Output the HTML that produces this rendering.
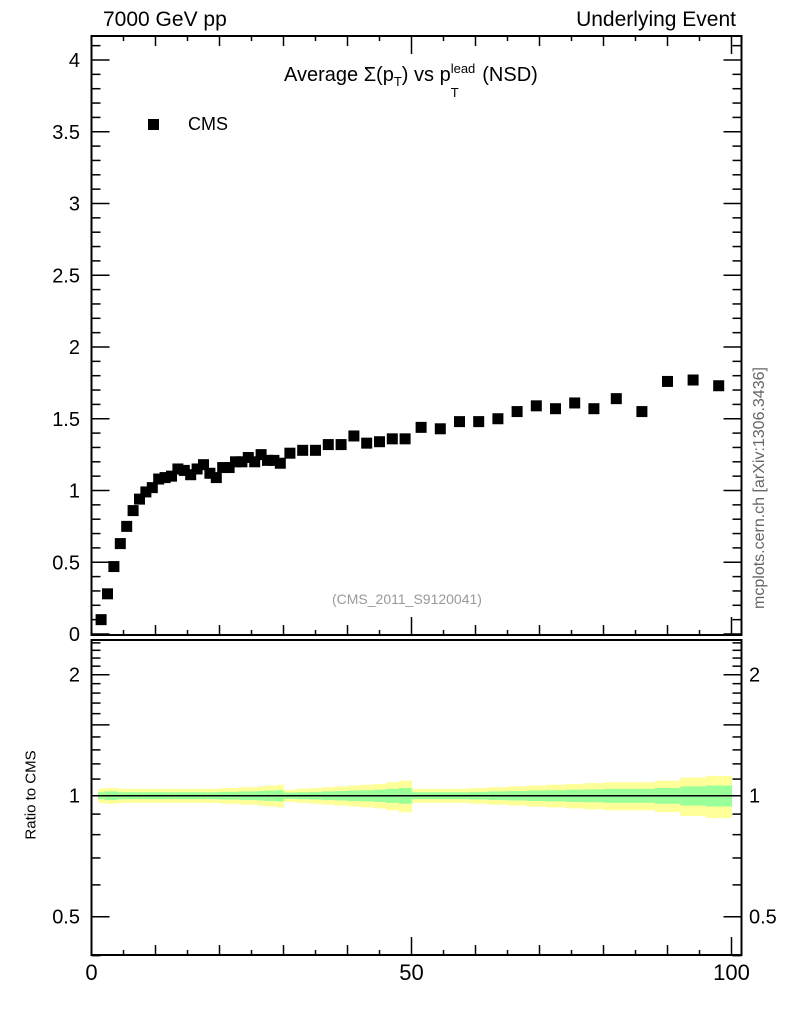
<!DOCTYPE html>
<html><head><meta charset="utf-8"><style>
body{margin:0;background:#fff;}
svg{display:block;font-family:"Liberation Sans",sans-serif;}
</style></head><body>
<svg id="c" width="786" height="1024" viewBox="0 0 786 1024"></svg>
<script>
const xVals=[1.5,2.5,3.5,4.5,5.5,6.5,7.5,8.5,9.5,10.5,11.5,12.5,13.5,14.5,15.5,16.5,17.5,18.5,19.5,20.5,21.5,22.5,23.5,24.5,25.5,26.5,27.5,28.5,29.5,31,33,35,37,39,41,43,45,47,49,51.5,54.5,57.5,60.5,63.5,66.5,69.5,72.5,75.5,78.5,82,86,90,94,98];
const xLo=[1,2,3,4,5,6,7,8,9,10,11,12,13,14,15,16,17,18,19,20,21,22,23,24,25,26,27,28,29,30,32,34,36,38,40,42,44,46,48,50,53,56,59,62,65,68,71,74,77,80,84,88,92,96];
const xHi=[2,3,4,5,6,7,8,9,10,11,12,13,14,15,16,17,18,19,20,21,22,23,24,25,26,27,28,29,30,32,34,36,38,40,42,44,46,48,50,53,56,59,62,65,68,71,74,77,80,84,88,92,96,100];
const cmsVals=[0.10,0.28,0.47,0.63,0.75,0.86,0.94,0.99,1.02,1.08,1.09,1.10,1.15,1.14,1.11,1.15,1.18,1.12,1.09,1.16,1.16,1.20,1.20,1.23,1.20,1.25,1.21,1.21,1.19,1.26,1.28,1.28,1.32,1.32,1.38,1.33,1.34,1.36,1.36,1.44,1.43,1.48,1.48,1.50,1.55,1.59,1.57,1.61,1.57,1.64,1.55,1.76,1.77,1.73];
const yellowErr=[0.04,0.045,0.045,0.04,0.04,0.04,0.04,0.04,0.04,0.04,0.04,0.04,0.04,0.04,0.04,0.04,0.04,0.04,0.04,0.045,0.045,0.045,0.05,0.05,0.05,0.055,0.06,0.06,0.065,0.035,0.04,0.045,0.05,0.055,0.06,0.065,0.07,0.08,0.09,0.04,0.04,0.04,0.045,0.05,0.055,0.06,0.065,0.07,0.075,0.08,0.08,0.09,0.11,0.12];
const greenErr=[0.02,0.025,0.025,0.02,0.02,0.02,0.02,0.02,0.02,0.02,0.02,0.02,0.02,0.02,0.02,0.02,0.02,0.02,0.02,0.022,0.022,0.022,0.025,0.025,0.025,0.027,0.03,0.03,0.032,0.018,0.02,0.022,0.025,0.027,0.03,0.032,0.035,0.04,0.045,0.02,0.02,0.02,0.022,0.025,0.027,0.03,0.032,0.035,0.037,0.04,0.04,0.045,0.055,0.06];
const yTicks=[0,0.5,1,1.5,2,2.5,3,3.5,4];
const rTicks=[0.5,1,2];

const svg=document.getElementById('c');
const NS='http://www.w3.org/2000/svg';
function el(t,a,p){const e=document.createElementNS(NS,t);for(const k in a)e.setAttribute(k,a[k]);(p||svg).appendChild(e);return e;}
const L=91.5,R=741.5,T=36,MB=635,RT=640,RB=955;
const sx=v=>91.5+v*6.4;
const sy=v=>634-v*143.5;
const sr=r=>795.7-121*Math.log2(r);

const gb=el('g',{});


for(let i=0;i<xVals.length;i++){
  const y=el('rect',{x:sx(xLo[i]),width:sx(xHi[i])-sx(xLo[i])+0.5,y:sr(1+yellowErr[i]),height:sr(1-yellowErr[i])-sr(1+yellowErr[i]),fill:'#ffff99'},gb);
  
  
  const g=el('rect',{x:sx(xLo[i]),width:sx(xHi[i])-sx(xLo[i])+0.5,y:sr(1+greenErr[i]),height:sr(1-greenErr[i])-sr(1+greenErr[i]),fill:'#99ff99'},gb);
  
  
}
const rl=el('line',{x1:L,x2:R,y1:sr(1),y2:sr(1),stroke:'#000','stroke-width':1.5});



const f1=el('rect',{x:L,y:T,width:R-L,height:MB-T,fill:'none',stroke:'#000','stroke-width':2});


const f2=el('rect',{x:L,y:RT,width:R-L,height:RB-RT,fill:'none',stroke:'#000','stroke-width':2});



for(let v=0;v<=4.15;v+=0.1){
  const vv=Math.round(v*10)/10;const maj=Math.abs(vv*2-Math.round(vv*2))<1e-6;const len=maj?18:9;
  el('line',{x1:L,x2:L+len,y1:sy(vv),y2:sy(vv),stroke:'#000','stroke-width':1.5});
  el('line',{x1:R-len,x2:R,y1:sy(vv),y2:sy(vv),stroke:'#000','stroke-width':1.5});
}
yTicks.forEach(v=>{const t=el('text',{x:80,y:sy(v)+7,'text-anchor':'end','font-size':20});t.textContent=String(v);
});

for(let v=0;v<=100;v+=5){
  const len=v%50===0?18:(v%10===0?10:5);
  el('line',{x1:sx(v),x2:sx(v),y1:MB,y2:MB-len,stroke:'#000','stroke-width':1.5});
  el('line',{x1:sx(v),x2:sx(v),y1:RB,y2:RB-len,stroke:'#000','stroke-width':1.5});
  el('line',{x1:sx(v),x2:sx(v),y1:T,y2:T+len,stroke:'#000','stroke-width':1.5});
}
[0,50,100].forEach(v=>{const t=el('text',{x:sx(v),y:980,'text-anchor':'middle','font-size':22});t.textContent=String(v);
});

for(let k=5;k<=24;k++){
  const r=k/10;const maj=(k===5||k===10||k===15||k===20);const len=maj?18:9;
  el('line',{x1:L,x2:L+len,y1:sr(r),y2:sr(r),stroke:'#000','stroke-width':1.5});
  el('line',{x1:R-len,x2:R,y1:sr(r),y2:sr(r),stroke:'#000','stroke-width':1.5});
}
el('line',{x1:L,x2:L+9,y1:sr(0.4),y2:sr(0.4),stroke:'#000','stroke-width':1.5});
el('line',{x1:R-9,x2:R,y1:sr(0.4),y2:sr(0.4),stroke:'#000','stroke-width':1.5});
rTicks.forEach(v=>{
  const a=el('text',{x:80,y:sr(v)+7,'text-anchor':'end','font-size':20});a.textContent=String(v);
  
  const b=el('text',{x:749,y:sr(v)+7,'text-anchor':'start','font-size':20});b.textContent=String(v);
  
});

const pg=el('g',{});


for(let i=0;i<xVals.length;i++){
  const p=el('rect',{x:sx(xVals[i])-5.5,y:sy(cmsVals[i])-5.5,width:11,height:11,fill:'#000'},pg);
  
  
}
</script>
<div style="position:absolute;left:0;top:0;width:786px;height:1024px;pointer-events:none;font-family:'Liberation Sans',sans-serif;">
<div style="position:absolute;left:103px;top:8px;font-size:21px;">7000 GeV pp</div>
<div style="position:absolute;right:50px;top:8px;font-size:21px;">Underlying Event</div>
<div style="position:absolute;left:284px;top:64px;font-size:20px;white-space:nowrap;">Average Σ(p<sub style="font-size:13px">T</sub>) vs p<span style="display:inline-block;position:relative;font-size:13px;width:26px;"><span style="position:absolute;top:-20px;left:0">lead</span><span style="position:absolute;top:4px;left:0">T</span></span> (NSD)</div>
<div style="position:absolute;left:148px;top:119px;width:11px;height:11px;background:#000"></div>
<div style="position:absolute;left:188px;top:114px;font-size:18px;">CMS</div>
<div style="position:absolute;left:332px;top:591px;font-size:14px;color:#999;">(CMS_2011_S9120041)</div>
<div style="position:absolute;left:760px;top:488px;font-size:16px;color:#666;transform:translate(-50%,-50%) rotate(-90deg);white-space:nowrap;">mcplots.cern.ch [arXiv:1306.3436]</div>
<div style="position:absolute;left:31px;top:795px;font-size:15px;transform:translate(-50%,-50%) rotate(-90deg);white-space:nowrap;">Ratio to CMS</div>
</div>
</body></html>
